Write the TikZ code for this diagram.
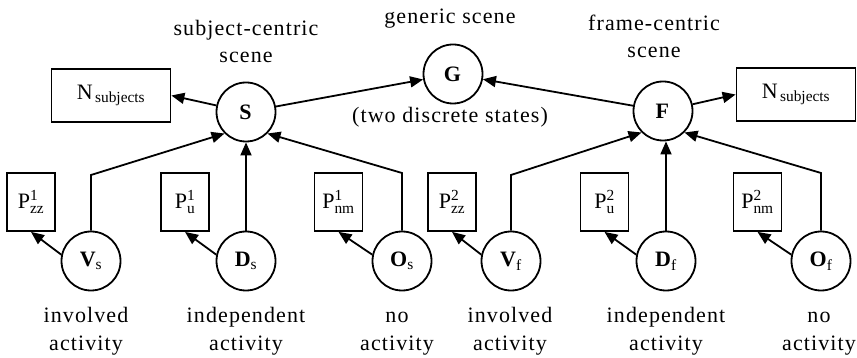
\documentclass[tikz,border=0pt]{standalone}
\usepackage{fontspec}
\setmainfont{Liberation Serif}[LetterSpace=5]
\usetikzlibrary{arrows.meta}
\begin{document}
\begin{tikzpicture}[x=1pt,y=-1pt,
  every node/.style={font=\fontsize{22}{27.5}\selectfont},
  var/.style={circle,draw,line width=1.8pt,minimum size=59pt,inner sep=0pt},
  param/.style={rectangle,draw,line width=1.8pt,minimum width=48pt,minimum height=58pt,inner sep=0pt},
  count/.style={rectangle,draw,line width=1.8pt,minimum width=119pt,minimum height=53pt,inner sep=0pt},
  lbl/.style={align=center,inner sep=0pt,anchor=base},
  link/.style={line width=1.8pt,-{Triangle[length=13pt,width=11pt]}},
  ]
\useasboundingbox (0,0) rectangle (857,358);

% scene-level variables
\node[var] (S) at (246,112) {\textbf{S}};
\node[var] (G) at (453,74)  {\textbf{G}};
\node[var] (F) at (663,111) {\textbf{F}};

% subject counts
\node[count] (Nl) at (111,95.5) {$\mathrm{N}_{\,\mathrm{subjects}}$};
\node[count] (Nr) at (796,94.5) {$\mathrm{N}_{\,\mathrm{subjects}}$};

% activity variables
\node[var] (Vs) at (91,261)  {$\mathbf{V}_{\mathrm{s}}$};
\node[var] (Ds) at (246,261) {$\mathbf{D}_{\mathrm{s}}$};
\node[var] (Os) at (402,261) {$\mathbf{O}_{\mathrm{s}}$};
\node[var] (Vf) at (511,261) {$\mathbf{V}_{\mathrm{f}}$};
\node[var] (Df) at (666,261) {$\mathbf{D}_{\mathrm{f}}$};
\node[var] (Of) at (821,261) {$\mathbf{O}_{\mathrm{f}}$};

% parameter boxes
\node[param] (Pzz1) at (31,202)    {$\mathrm{P}^{\mathrm{1}}_{\mathrm{zz}}$};
\node[param] (Pu1)  at (185,202)   {$\mathrm{P}^{\mathrm{1}}_{\mathrm{u}}$};
\node[param] (Pnm1) at (338.5,202) {$\mathrm{P}^{\mathrm{1}}_{\mathrm{nm}}$};
\node[param] (Pzz2) at (452,202)   {$\mathrm{P}^{\mathrm{2}}_{\mathrm{zz}}$};
\node[param] (Pu2)  at (604.5,202) {$\mathrm{P}^{\mathrm{2}}_{\mathrm{u}}$};
\node[param] (Pnm2) at (757.5,202) {$\mathrm{P}^{\mathrm{2}}_{\mathrm{nm}}$};

% bend points
\coordinate (kVs) at (91,175);
\coordinate (kOs) at (402,173);
\coordinate (kVf) at (511,175);
\coordinate (kOf) at (821,173);

% connectors
\draw[link] (S) -- (Nl.east);
\draw[link] (S) -- (G);
\draw[link] (F) -- (G);
\draw[link] (F) -- (Nr.west);

\draw[link] (Vs) -- (kVs) -- (S.south west);
\draw[link] (Ds) -- (S);
\draw[link] (Os) -- (kOs) -- (S.south east);
\draw[link] (Vf) -- (kVf) -- (F.south west);
\draw[link] (Df) -- (Df |- F.south);
\draw[link] (Of) -- (kOf) -- (F.south east);

\draw[link] (Vs.168) -- (Pzz1.south);
\draw[link] (Ds.168) -- (Pu1.south);
\draw[link] (Os.168) -- (Pnm1.south);
\draw[link] (Vf.168) -- (Pzz2.south);
\draw[link] (Df.168) -- (Pu2.south);
\draw[link] (Of.168) -- (Pnm2.south);

% captions (base = baseline of the last line)
\node[lbl] (tS) at (246,63) {subject-centric\\scene};
\node[lbl] (tG) at (450,24) {generic scene};
\node[lbl] (tG2) at (450,123) {(two discrete states)};
\node[lbl] (tF) at (654,58) {frame-centric\\scene};

\node[lbl] (aVs) at (86,350)  {involved\\activity};
\node[lbl] (aDs) at (246,350) {independent\\activity};
\node[lbl] (aOs) at (397,350) {no\\activity};
\node[lbl] (aVf) at (510,350) {involved\\activity};
\node[lbl] (aDf) at (666,350) {independent\\activity};
\node[lbl] (aOf) at (819,350) {no\\activity};
\end{tikzpicture}
\end{document}
